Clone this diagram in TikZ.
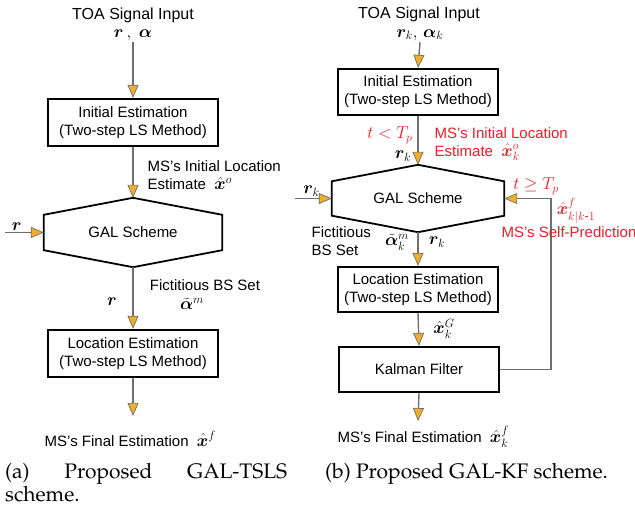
\documentclass[tikz,border=0pt]{standalone}
\usepackage[T1]{fontenc}
\usepackage{fontspec}
\setmainfont{Liberation Sans}
\usepackage{amsmath,bm}
\usetikzlibrary{arrows.meta}

\definecolor{arrorange}{RGB}{238,174,44}
\definecolor{estred}{RGB}{232,30,40}
\definecolor{linegray}{RGB}{110,110,110}
\newcommand{\subcapfont}{\fontencoding{T1}\fontfamily{ppl}\fontsize{21}{23}\selectfont}
\newcommand{\symbig}[1]{{\fontsize{18}{20}\selectfont$#1$}}

\tikzset{
  every node/.style={inner sep=1.5pt},
  box/.style={draw=black, line width=2.2pt, minimum width=160pt, minimum height=46pt, align=center, inner sep=0pt},
  hexnode/.style={minimum height=67pt, inner sep=0pt},
  hexline/.style={draw=black, line width=1.8pt},
  flow/.style={draw=linegray, line width=1.4pt, -{Triangle[length=13pt,width=11pt,fill=arrorange,line width=0.7pt]}},
  redlbl/.style={text=estred},
  titlelbl/.style={font=\fontsize{16}{19}\selectfont},
}

\begin{document}
\begin{tikzpicture}[x=1pt, y=-1pt, font=\fontsize{15}{18}\selectfont]
    \useasboundingbox (0,0) rectangle (635,513);

    % (a) GAL-TSLS
    \node[titlelbl] (inA) at (133,15) {TOA Signal Input};
    \node (rA) at (133,35) {\symbig{\bm{r}\,,\;\bm{\alpha}}};
    \node[box, minimum width=170pt, minimum height=47pt] (initA) at (133,122.5) {Initial Estimation\\(Two-step LS Method)};
    \node[hexnode, minimum width=178pt, minimum height=69pt] (galA) at (133,232.5) {GAL Scheme};
    \draw[hexline] (galA.north) -- ([yshift=-17pt]galA.north east) -- ([yshift=17pt]galA.south east)
        -- (galA.south) -- ([yshift=17pt]galA.south west) -- ([yshift=-17pt]galA.north west) -- cycle;
    \node[box, minimum width=170pt, minimum height=47pt] (locA) at (133,353.5) {Location Estimation\\(Two-step LS Method)};
    \coordinate (rinA) at (5,232.5);
    \coordinate (outA) at (133,416);

    \draw[flow] (rA.south) -- (initA.north);
    \draw[flow] (initA.south) -- (galA.north);
    \draw[flow] (rinA) -- node[pos=0.3, above] {\symbig{\bm{r}}} (galA.west);
    \draw[flow] (galA.south) -- (locA.north);
    \draw[flow] (locA.south) -- (outA);

    \node[anchor=west, align=left] (estA) at (146,175) {MS's Initial Location\\Estimate\; \symbig{\hat{\bm{x}}^{o}}};
    \node (rdA) at (112,302) {\symbig{\bm{r}}};
    \node (fbsA) at (205,285) {Fictitious BS Set};
    \node (amA) at (192,304) {\symbig{\tilde{\bm{\alpha}}^{m}}};
    \node[anchor=west] (finA) at (43,439) {MS's Final Estimation\; \symbig{\hat{\bm{x}}^{f}}};
    \node[anchor=north west, text width=282pt, align=left, inner sep=0pt, font=\subcapfont] (capA) at (5,463)
        {(a)\hfill Proposed\hfill GAL-TSLS\\scheme.};

    % (b) GAL-KF
    \node[titlelbl] (inB) at (419,14) {TOA Signal Input};
    \node (rB) at (420,35) {\symbig{\bm{r}_k,\,\bm{\alpha}_k}};
    \node[box] (initB) at (418,92) {Initial Estimation\\(Two-step LS Method)};
    \node[hexnode, minimum width=172pt] (galB) at (418,198.5) {GAL Scheme};
    \draw[hexline] (galB.north) -- ([yshift=-16.5pt]galB.north east) -- ([yshift=16.5pt]galB.south east)
        -- (galB.south) -- ([yshift=16.5pt]galB.south west) -- ([yshift=-16.5pt]galB.north west) -- cycle;
    \node[box, minimum height=45pt] (locB) at (418,289.5) {Location Estimation\\(Two-step LS Method)};
    \node[box, minimum height=45pt] (kalB) at (419,369.5) {Kalman Filter};
    \coordinate (rinB) at (295,198.5);
    \coordinate (outB) at (418,421);

    \draw[flow] (rB.south) -- (initB.north);
    \draw[flow] (initB.south) -- (galB.north);
    \draw[flow] (rinB) -- node[pos=0.45, above] {\symbig{\bm{r}_k}} (galB.west);
    \draw[flow] (galB.south) -- (locB.north);
    \draw[flow] (locB.south) -- (kalB.north);
    \draw[flow] (kalB.south) -- (outB);
    \draw[flow] (kalB.east) -- ++(51,0) |- (galB.east);

    \node[redlbl] (ltB) at (390,135) {\symbig{t<T_p}};
    \node (rkB) at (403,156) {\symbig{\bm{r}_k}};
    \node[redlbl, anchor=west, align=left] (estB) at (433,144) {MS's Initial Location\\Estimate\; \symbig{\hat{\bm{x}}_k^{o}}};
    \node[redlbl] (geB) at (536,186) {\symbig{t\geq T_p}};
    \node[redlbl] (predB) at (576,211) {\symbig{\hat{\bm{x}}_{k|k\text{-}1}^{f}}};
    \node[redlbl] (spB) at (569,232) {MS's Self-Prediction};
    \node[anchor=west, align=left] (fbsB) at (310,241) {Fictitious\\BS Set};
    \node (amB) at (397,242) {\symbig{\tilde{\bm{\alpha}}_k^{m}}};
    \node (rdB) at (437,242) {\symbig{\bm{r}_k}};
    \node (xgB) at (444,329) {\symbig{\hat{\bm{x}}_k^{G}}};
    \node[anchor=west] (finB) at (336,437) {MS's Final Estimation\; \symbig{\hat{\bm{x}}_k^{f}}};
    \node[anchor=west, inner sep=0pt, font=\subcapfont] (capB) at (325,474) {(b) Proposed GAL-KF scheme.};
\end{tikzpicture}
\end{document}
